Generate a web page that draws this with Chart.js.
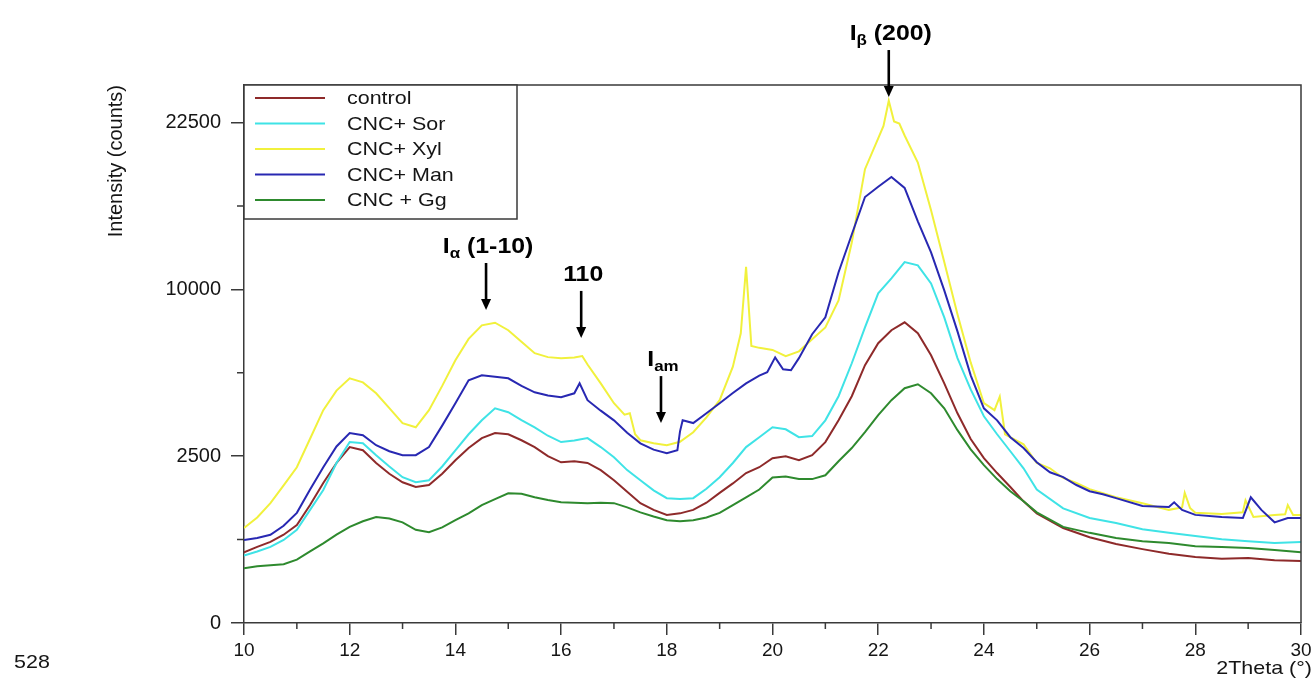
<!DOCTYPE html>
<html>
<head>
<meta charset="utf-8">
<title>XRD patterns</title>
<script src="https://cdn.jsdelivr.net/npm/chart.js@4.4.1/dist/chart.umd.min.js"></script>
<style>
  html, body { margin: 0; padding: 0; background: #fff; }
  #wrap { width: 1316px; height: 682px; }
</style>
</head>
<body>
<div id="wrap"><canvas id="xrdChart" width="1316" height="682"></canvas></div>
<script>
// --- data ---
const seriesNames = ['control', 'CNC+ Sor', 'CNC+ Xyl', 'CNC+ Man', 'CNC + Gg'];

// common 2theta grid for control / Sor / Gg
const gridAngles = [
  10, 10.25, 10.5, 10.75, 11, 11.25, 11.5, 11.75,
  12, 12.25, 12.5, 12.75, 13, 13.25, 13.5, 13.75,
  14, 14.25, 14.5, 14.75, 15, 15.25, 15.5, 15.75,
  16, 16.25, 16.5, 16.75, 17, 17.25, 17.5, 17.75,
  18, 18.25, 18.5, 18.75, 19, 19.25, 19.5, 19.75,
  20, 20.25, 20.5, 20.75, 21, 21.25, 21.5, 21.75,
  22, 22.25, 22.5, 22.75, 23, 23.25, 23.5, 23.75,
  24, 24.25, 24.5, 24.75, 25,
  25.5, 26, 26.5, 27, 27.5, 28, 28.5, 29, 29.5, 30
];
const controlCounts = [
  450, 520, 590, 700, 860, 1250, 1760, 2300,
  2780, 2680, 2300, 2000, 1780, 1660, 1710, 2000,
  2380, 2750, 3070, 3240, 3200, 3000, 2780, 2500,
  2320, 2350, 2300, 2100, 1830, 1550, 1290, 1150,
  1050, 1080, 1150, 1300, 1520, 1750, 2020, 2180,
  2440, 2500, 2380, 2530, 2940, 3690, 4620, 5970,
  7030, 7700, 8120, 7540, 6440, 5160, 3950, 3040,
  2440, 2020, 1660, 1330, 1080,
  810, 660, 560, 490, 430, 390, 370, 380, 355, 345
];
const sorCounts = [
  410, 460, 520, 620, 780, 1150, 1590, 2300,
  2940, 2900, 2530, 2200, 1910, 1780, 1830, 2200,
  2680, 3200, 3690, 4140, 3990, 3700, 3440, 3150,
  2940, 2990, 3070, 2780, 2470, 2100, 1830, 1580,
  1400, 1380, 1400, 1620, 1910, 2300, 2780, 3100,
  3440, 3370, 3100, 3140, 3690, 4620, 6060, 7850,
  9760, 10670, 11700, 11490, 10360, 8390, 6300, 4900,
  3840, 3200, 2650, 2150, 1600,
  1180, 990, 900, 790, 730, 680, 630, 600, 575, 590
];
const ggCounts = [
  270, 290, 300, 310, 360, 460, 570, 700,
  830, 930, 1010, 980, 910, 780, 740, 820,
  950, 1080, 1250, 1380, 1510, 1500, 1420, 1360,
  1310, 1300, 1290, 1300, 1290, 1200, 1100, 1020,
  950, 930, 950, 1000, 1090, 1250, 1420, 1600,
  1900, 1930, 1860, 1860, 1960, 2350, 2750, 3270,
  3880, 4460, 4950, 5120, 4740, 4140, 3340, 2710,
  2240, 1860, 1560, 1330, 1100,
  830, 730, 650, 600, 575, 530, 520, 505, 480, 450
];

// Xyl and Man carry sharp extra reflections, so they get their own angles
const xylAngles = [
  10, 10.25, 10.5, 10.75, 11, 11.25, 11.5, 11.75,
  12, 12.25, 12.5, 12.75, 13, 13.25, 13.5, 13.75,
  14, 14.25, 14.5, 14.75, 15, 15.25, 15.5, 15.75,
  16, 16.25, 16.4, 16.5, 16.75, 17, 17.2, 17.3, 17.4, 17.5, 17.75,
  18, 18.25, 18.5, 18.75, 19, 19.25, 19.4, 19.5, 19.6, 19.75,
  20, 20.25, 20.5, 20.75, 21, 21.25, 21.5, 21.75,
  22, 22.1, 22.2, 22.3, 22.4, 22.5, 22.75, 23, 23.25, 23.5, 23.75,
  24, 24.2, 24.3, 24.4, 24.75, 25, 25.25, 25.5, 25.75, 26, 26.5,
  27, 27.5, 27.75, 27.8, 27.9, 28, 28.5, 28.9, 28.95, 29.1,
  29.5, 29.7, 29.75, 29.85, 30
];
const xylCounts = [
  810, 1000, 1290, 1700, 2180, 3050, 4070, 4850,
  5380, 5200, 4740, 4150, 3590, 3440, 4070, 5050,
  6200, 7250, 7960, 8100, 7700, 7100, 6540, 6350,
  6300, 6330, 6400, 6000, 5160, 4340, 3900, 3950, 3200, 3000, 2900,
  2840, 2950, 3270, 3800, 4460, 5900, 7540, 11400, 6900, 6800,
  6700, 6400, 6630, 7230, 7850, 9350, 13000, 18500,
  21100, 22200, 24500, 22600, 22400, 21350, 19050, 15300, 11700, 8560, 6100,
  4340, 4070, 4600, 3200, 2870, 2300, 2150, 1890, 1760, 1610, 1420,
  1290, 1150, 1200, 1520, 1190, 1090, 1065, 1100, 1350, 1010,
  1050, 1060, 1250, 1050, 1050
];
const manAngles = [
  10, 10.25, 10.5, 10.75, 11, 11.25, 11.5, 11.75,
  12, 12.25, 12.5, 12.75, 13, 13.25, 13.5, 13.75,
  14, 14.25, 14.5, 14.75, 15, 15.25, 15.5, 15.75,
  16, 16.25, 16.35, 16.5, 16.75, 17, 17.25, 17.5, 17.75,
  18, 18.2, 18.25, 18.3, 18.5, 18.75, 19, 19.25, 19.5, 19.75, 19.9,
  20.05, 20.2, 20.35, 20.5, 20.75, 21, 21.25, 21.5, 21.75,
  22, 22.25, 22.5, 22.75, 23, 23.25, 23.5, 23.75,
  24, 24.25, 24.5, 24.75, 25, 25.25, 25.5, 25.75,
  26, 26.25, 26.5, 27, 27.5, 27.6, 27.75, 28, 28.5, 28.9,
  29.05, 29.25, 29.5, 29.75, 30
];
const manCounts = [
  620, 650, 700, 850, 1090, 1600, 2180, 2800,
  3240, 3170, 2840, 2650, 2530, 2530, 2780, 3500,
  4340, 5290, 5510, 5450, 5380, 5050, 4780, 4650,
  4580, 4740, 5160, 4460, 4050, 3690, 3250, 2900, 2700,
  2590, 2680, 3300, 3690, 3590, 3950, 4340, 4750, 5160, 5500, 5650,
  6340, 5780, 5740, 6300, 7490, 8390, 11050, 13560, 16300,
  17100, 17870, 17000, 14490, 12340, 9940, 7640, 5510,
  4140, 3690, 3100, 2750, 2320, 2040, 1910, 1710,
  1560, 1490, 1400, 1230, 1210, 1310, 1150, 1050, 1010, 990,
  1420, 1150, 910, 990, 990
];

const seriesAngles = [gridAngles, gridAngles, xylAngles, manAngles, gridAngles];
const seriesCounts = [controlCounts, sorCounts, xylCounts, manCounts, ggCounts];

// axis ticks (y axis is square-root scaled)
const xTicks = [10, 12, 14, 16, 18, 20, 22, 24, 26, 28, 30];
const xMinorTicks = [11, 13, 15, 17, 19, 21, 23, 25, 27, 29];
const yTicks = [0, 2500, 10000, 22500];
const yMinorTicks = [625, 5625, 15625];

// reflection labels: arrow tip at (angle, counts)
const peakMarks = [
  { main: 'I', sub: 'α', rest: ' (1-10)', angle: 14.58, counts: 8800 },
  { main: '110', sub: '', rest: '', angle: 16.38, counts: 7300 },
  { main: 'I', sub: 'am', rest: '', angle: 17.89, counts: 3590 },
  { main: 'I', sub: 'β', rest: ' (200)', angle: 22.2, counts: 24850 }
];

// --- styles ---
const lineColors = ['#8e2a2a', '#3fe3e6', '#f1f13c', '#2828b2', '#2e8a2e'];
const axisColor = '#3a3a3a';
const textColor = '#151515';
const FONT = '"Liberation Sans", Arial, sans-serif';
const STRETCH = 1.13; // the source figure is a bit widened

// square-root value axis
class SqrtScale extends Chart.LinearScale {
  getPixelForValue(value) {
    if (value === null || isNaN(value)) return NaN;
    const lo = Math.sqrt(this.min), hi = Math.sqrt(this.max);
    return this.getPixelForDecimal((Math.sqrt(Math.max(0, value)) - lo) / (hi - lo));
  }
  getValueForPixel(pixel) {
    const lo = Math.sqrt(this.min), hi = Math.sqrt(this.max);
    const s = lo + this.getDecimalForPixel(pixel) * (hi - lo);
    return s * s;
  }
}
SqrtScale.id = 'sqrt';
SqrtScale.defaults = Chart.LinearScale.defaults;
Chart.register(SqrtScale);

function wideText(ctx, text, x, y, align) {
  const w = ctx.measureText(text).width * STRETCH;
  const left = align === 'center' ? x - w / 2 : (align === 'right' ? x - w : x);
  ctx.save();
  ctx.translate(left, y);
  ctx.scale(STRETCH, 1);
  ctx.textAlign = 'left';
  ctx.fillText(text, 0, 0);
  ctx.restore();
}

function drawPeakLabel(ctx, mark, cx, baseY) {
  const big = 'bold 22px ' + FONT, small = 'bold 15px ' + FONT;
  ctx.font = big;
  const w1 = ctx.measureText(mark.main).width;
  const w3 = ctx.measureText(mark.rest).width;
  ctx.font = small;
  const w2 = ctx.measureText(mark.sub).width;
  const total = (w1 + w2 + w3) * STRETCH;
  ctx.save();
  ctx.translate(cx - total / 2, baseY);
  ctx.scale(STRETCH, 1);
  ctx.textAlign = 'left';
  ctx.textBaseline = 'alphabetic';
  ctx.font = big;
  ctx.fillText(mark.main, 0, 0);
  ctx.font = small;
  ctx.fillText(mark.sub, w1, 5);
  ctx.font = big;
  ctx.fillText(mark.rest, w1 + w2, 0);
  ctx.restore();
}

const decorPlugin = {
  id: 'decor',
  afterDatasetsDraw(chart) {
    const { ctx, chartArea: area, scales: { x, y } } = chart;
    ctx.save();

    // frame top + right
    ctx.strokeStyle = axisColor;
    ctx.lineWidth = 1.5;
    ctx.beginPath();
    ctx.moveTo(area.left, area.top);
    ctx.lineTo(area.right, area.top);
    ctx.lineTo(area.right, area.bottom);
    ctx.stroke();

    // minor ticks
    ctx.beginPath();
    xMinorTicks.forEach(v => {
      const px = x.getPixelForValue(v);
      ctx.moveTo(px, area.bottom);
      ctx.lineTo(px, area.bottom + 6);
    });
    yMinorTicks.forEach(v => {
      const py = y.getPixelForValue(v);
      ctx.moveTo(area.left - 7, py);
      ctx.lineTo(area.left, py);
    });
    ctx.stroke();

    // x axis title, right edge lined up with the last tick label
    ctx.fillStyle = textColor;
    ctx.font = '19px ' + FONT;
    ctx.textBaseline = 'middle';
    wideText(ctx, '2Theta (°)', area.right + 11, 669, 'right');

    // legend box
    const boxW = 273, boxH = 134;
    ctx.fillStyle = '#fff';
    ctx.fillRect(area.left, area.top, boxW, boxH);
    ctx.strokeRect(area.left, area.top, boxW, boxH);
    ctx.font = '19px ' + FONT;
    ctx.textBaseline = 'middle';
    chart.data.datasets.forEach((ds, i) => {
      const rowY = area.top + 13 + i * 25.5;
      ctx.strokeStyle = ds.borderColor;
      ctx.lineWidth = 1.8;
      ctx.beginPath();
      ctx.moveTo(area.left + 11, rowY);
      ctx.lineTo(area.left + 81, rowY);
      ctx.stroke();
      ctx.fillStyle = textColor;
      wideText(ctx, ds.label, area.left + 103, rowY + 1, 'left');
    });

    // reflection arrows
    ctx.fillStyle = '#000';
    ctx.strokeStyle = '#000';
    peakMarks.forEach(m => {
      const px = x.getPixelForValue(m.angle);
      const tip = y.getPixelForValue(m.counts);
      const top = tip - 47;
      ctx.lineWidth = 2.6;
      ctx.beginPath();
      ctx.moveTo(px, top);
      ctx.lineTo(px, tip - 8);
      ctx.stroke();
      ctx.beginPath();
      ctx.moveTo(px - 5, tip - 11);
      ctx.lineTo(px + 5, tip - 11);
      ctx.lineTo(px, tip);
      ctx.closePath();
      ctx.fill();
      drawPeakLabel(ctx, m, px + 2, top - 10);
    });

    // figure number left over from the page
    ctx.fillStyle = textColor;
    ctx.font = '19px ' + FONT;
    ctx.textBaseline = 'middle';
    wideText(ctx, '528', 14, 663, 'left');
    ctx.restore();
  }
};

const xTickFont = { family: FONT, size: 19 };
const yTickFont = { family: FONT, size: 20 };

new Chart(document.getElementById('xrdChart'), {
  type: 'line',
  data: {
    datasets: seriesNames.map((name, i) => ({
      label: name,
      data: seriesAngles[i].map((a, j) => ({ x: a, y: seriesCounts[i][j] })),
      borderColor: lineColors[i],
      borderWidth: 2,
      pointRadius: 0,
      tension: 0,
      fill: false,
      order: seriesNames.length - i
    }))
  },
  options: {
    responsive: false,
    animation: false,
    events: [],
    layout: { padding: { left: 100, right: 15, top: 85, bottom: 0 } },
    scales: {
      x: {
        type: 'linear',
        min: 10,
        max: 30,
        afterFit: s => { s.height = 59; },
        afterBuildTicks: s => { s.ticks = xTicks.map(v => ({ value: v })); },
        ticks: { font: xTickFont, color: textColor, padding: 4, maxRotation: 0, autoSkip: false },
        grid: { drawOnChartArea: false, tickLength: 12, color: axisColor, lineWidth: 1.5 },
        border: { color: axisColor, width: 1.5 },
        title: { display: false }
      },
      y: {
        type: 'sqrt',
        min: 0,
        max: 26000,
        afterFit: s => { s.width = 144; },
        afterBuildTicks: s => { s.ticks = yTicks.map(v => ({ value: v })); },
        ticks: { font: yTickFont, color: textColor, padding: 10, callback: v => String(v) },
        grid: { drawOnChartArea: false, tickLength: 13, color: axisColor, lineWidth: 1.5 },
        border: { color: axisColor, width: 1.5 },
        title: {
          display: true, text: 'Intensity (counts)', align: 'end',
          font: yTickFont, color: textColor, padding: { top: 4, bottom: 0 }
        }
      }
    },
    plugins: {
      legend: { display: false },
      tooltip: { enabled: false }
    }
  },
  plugins: [decorPlugin]
});
</script>
</body>
</html>
